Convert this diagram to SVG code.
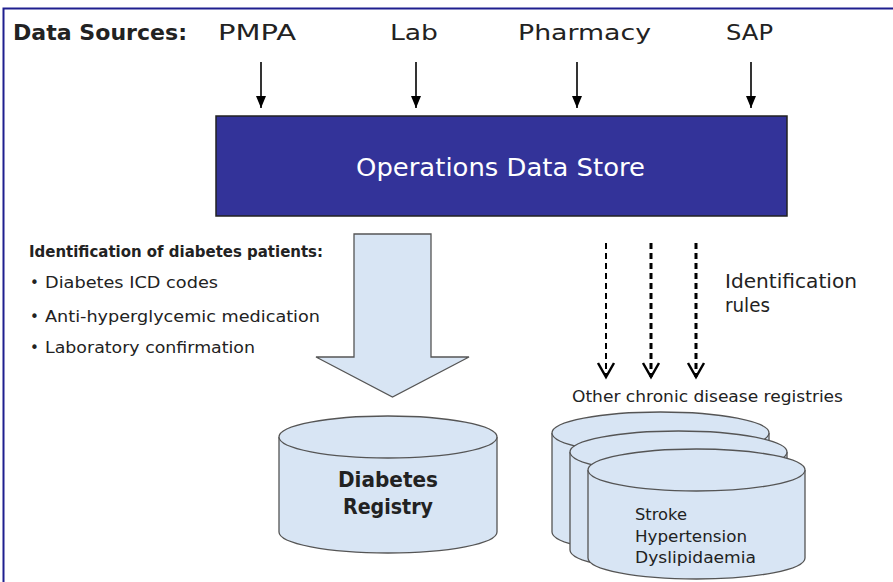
<svg xmlns="http://www.w3.org/2000/svg" width="893" height="582" viewBox="0 0 893 582">
<style>
  text { font-family: "DejaVu Sans", "Liberation Sans", sans-serif; fill: #222; }
  .src { font-size: 22px; }
  .b { font-weight: bold; }
  .lbl { font-size: 15px; }
  .cyl { fill: #d8e5f4; stroke: #555; stroke-width: 1.3; }
  .solid { stroke: #000; stroke-width: 1.6; fill: none; }
  .dash { stroke: #000; fill: none; stroke-dasharray: 6 4; }
</style>
<defs>
  <marker id="tri" markerUnits="userSpaceOnUse" markerWidth="10" markerHeight="12" refX="5" refY="11" orient="auto-start-reverse" viewBox="0 0 10 12">
    <path d="M0,0 L10,0 L5,12 Z" fill="#000" transform="rotate(-90 5 6)"/>
  </marker>
  <marker id="vee" markerUnits="userSpaceOnUse" markerWidth="20" markerHeight="20" refX="15" refY="10" orient="auto" viewBox="0 0 20 20">
    <path d="M1,2 L15,10 L1,18" fill="none" stroke="#000" stroke-width="2.5"/>
  </marker>
  <marker id="tri2" markerUnits="userSpaceOnUse" markerWidth="12" markerHeight="10" refX="12" refY="5" orient="auto" viewBox="0 0 12 10">
    <path d="M0,0 L12,5 L0,10 Z" fill="#000"/>
  </marker>
</defs>

<rect x="3.5" y="8.5" width="900" height="600" fill="#fff" stroke="#1f1f8f" stroke-width="2"/>

<g id="sources">
  <text class="src b" x="13" y="40" textLength="174" lengthAdjust="spacingAndGlyphs">Data Sources:</text>
  <text class="src" x="218" y="40" textLength="78" lengthAdjust="spacingAndGlyphs">PMPA</text>
  <text class="src" x="390" y="40" textLength="48" lengthAdjust="spacingAndGlyphs">Lab</text>
  <text class="src" x="518" y="40" textLength="133" lengthAdjust="spacingAndGlyphs">Pharmacy</text>
  <text class="src" x="726" y="40" textLength="47" lengthAdjust="spacingAndGlyphs">SAP</text>
</g>

<g id="connectors">
  <line class="solid" x1="261" y1="62" x2="261" y2="108" marker-end="url(#tri2)"/>
  <line class="solid" x1="416" y1="62" x2="416" y2="108" marker-end="url(#tri2)"/>
  <line class="solid" x1="577" y1="62" x2="577" y2="108" marker-end="url(#tri2)"/>
  <line class="solid" x1="751" y1="62" x2="751" y2="108" marker-end="url(#tri2)"/>
  <line class="dash" stroke-width="2" x1="606" y1="243" x2="606" y2="377" marker-end="url(#vee)"/>
  <line class="dash" stroke-width="3" x1="651" y1="243" x2="651" y2="377" marker-end="url(#vee)"/>
  <line class="dash" stroke-width="3" x1="696" y1="243" x2="696" y2="377" marker-end="url(#vee)"/>
  <polygon id="big-arrow" points="354,234 431,234 431,357 469,357 392.5,397 316,357 354,357" fill="#d8e5f4" stroke="#555" stroke-width="1.3"/>
</g>

<g id="ods">
  <rect x="216" y="116" width="571" height="100" fill="#333399" stroke="#222" stroke-width="1.5"/>
  <text x="356" y="176" font-size="25" style="fill:#fff" textLength="289" lengthAdjust="spacingAndGlyphs">Operations Data Store</text>
</g>

<g id="identification">
  <text class="b" x="29" y="257" font-size="15.5" textLength="294" lengthAdjust="spacingAndGlyphs">Identification of diabetes patients:</text>
  <text class="lbl" x="30" y="288">•</text>
  <text class="lbl" x="45" y="288" textLength="173" lengthAdjust="spacingAndGlyphs">Diabetes ICD codes</text>
  <text class="lbl" x="30" y="322">•</text>
  <text class="lbl" x="45" y="322" textLength="275" lengthAdjust="spacingAndGlyphs">Anti-hyperglycemic medication</text>
  <text class="lbl" x="30" y="353">•</text>
  <text class="lbl" x="45" y="353" textLength="210" lengthAdjust="spacingAndGlyphs">Laboratory confirmation</text>
</g>

<g id="rules">
  <text x="725" y="288" font-size="19" textLength="132" lengthAdjust="spacingAndGlyphs">Identification</text>
  <text x="725" y="312" font-size="19" textLength="45" lengthAdjust="spacingAndGlyphs">rules</text>
</g>

<g id="diabetes-registry">
  <path class="cyl" d="M279,437 L279,532 A109,21 0 0 0 497,532 L497,437 A109,21 0 0 0 279,437 Z"/>
  <path class="cyl" d="M279,437 A109,21 0 0 0 497,437"/>
  <text class="b" x="388" y="487" font-size="21" text-anchor="middle" textLength="100" lengthAdjust="spacingAndGlyphs">Diabetes</text>
  <text class="b" x="388" y="514" font-size="21" text-anchor="middle" textLength="90" lengthAdjust="spacingAndGlyphs">Registry</text>
</g>

<g id="other-registries">
  <text x="572" y="402" font-size="15.5" textLength="271" lengthAdjust="spacingAndGlyphs">Other chronic disease registries</text>
  <path class="cyl" d="M552,433 L552,532 A108.5,21 0 0 0 769,532 L769,433 A108.5,21 0 0 0 552,433 Z"/>
  <path class="cyl" d="M552,433 A108.5,21 0 0 0 769,433"/>
  <path class="cyl" d="M570,452 L570,550 A108.5,21 0 0 0 787,550 L787,452 A108.5,21 0 0 0 570,452 Z"/>
  <path class="cyl" d="M570,452 A108.5,21 0 0 0 787,452"/>
  <path class="cyl" d="M588,470 L588,558 A108.5,21 0 0 0 805,558 L805,470 A108.5,21 0 0 0 588,470 Z"/>
  <path class="cyl" d="M588,470 A108.5,21 0 0 0 805,470"/>
  <text class="lbl" x="635" y="520" textLength="52" lengthAdjust="spacingAndGlyphs">Stroke</text>
  <text class="lbl" x="635" y="542" textLength="112" lengthAdjust="spacingAndGlyphs">Hypertension</text>
  <text class="lbl" x="635" y="563" textLength="121" lengthAdjust="spacingAndGlyphs">Dyslipidaemia</text>
</g>
</svg>
